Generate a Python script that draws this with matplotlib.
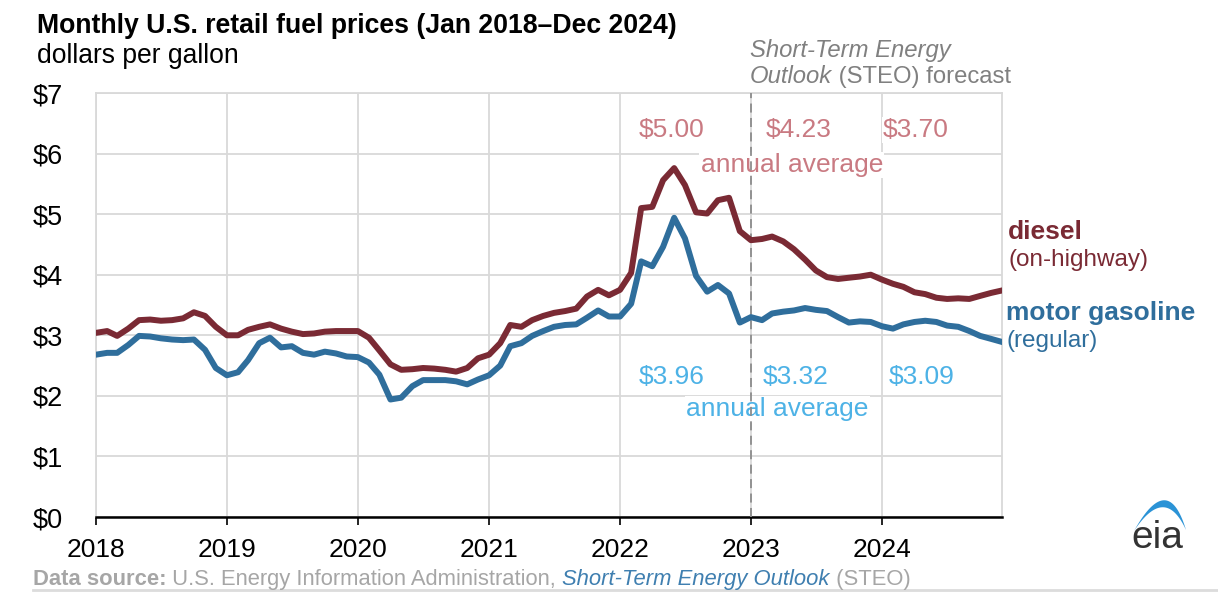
import numpy as np
import pandas as pd
import matplotlib
matplotlib.use("Agg")
import matplotlib.pyplot as plt
import matplotlib.dates as mdates
from matplotlib.patches import Polygon
from matplotlib.lines import Line2D

plt.rcParams['font.family'] = ['Liberation Sans', 'DejaVu Sans']

# monthly prices, Jan 2018 - Dec 2024 (dollars per gallon)
months = pd.date_range('2018-01-01', '2024-12-01', freq='MS')
diesel = [
    3.04, 3.07, 2.99, 3.11, 3.25, 3.26, 3.24, 3.25, 3.28, 3.38, 3.32, 3.14,  # 2018
    3.00, 3.00, 3.09, 3.14, 3.18, 3.11, 3.06, 3.02, 3.03, 3.06, 3.07, 3.07,  # 2019
    3.07, 2.96, 2.75, 2.52, 2.43, 2.44, 2.46, 2.45, 2.43, 2.40, 2.46, 2.62,  # 2020
    2.68, 2.87, 3.17, 3.14, 3.25, 3.32, 3.37, 3.40, 3.44, 3.64, 3.75, 3.66,  # 2021
    3.75, 4.03, 5.10, 5.12, 5.56, 5.76, 5.48, 5.03, 5.01, 5.23, 5.27, 4.72,  # 2022
    4.57, 4.59, 4.63, 4.55, 4.42, 4.25, 4.07, 3.96, 3.93, 3.95, 3.97, 4.00,  # 2023
    3.92, 3.85, 3.80, 3.71, 3.68, 3.62, 3.60, 3.61, 3.60, 3.65, 3.70, 3.74,  # 2024
]
gasoline = [
    2.68, 2.71, 2.71, 2.84, 2.99, 2.98, 2.95, 2.93, 2.92, 2.93, 2.76, 2.46,
    2.34, 2.39, 2.59, 2.87, 2.96, 2.80, 2.82, 2.71, 2.68, 2.73, 2.70, 2.65,
    2.64, 2.55, 2.35, 1.94, 1.97, 2.16, 2.26, 2.26, 2.26, 2.24, 2.19, 2.27,
    2.34, 2.50, 2.82, 2.87, 2.99, 3.07, 3.14, 3.17, 3.18, 3.29, 3.41, 3.31,
    3.31, 3.52, 4.22, 4.14, 4.46, 4.94, 4.60, 3.98, 3.72, 3.83, 3.69, 3.21,
    3.30, 3.25, 3.36, 3.39, 3.41, 3.45, 3.42, 3.40, 3.30, 3.21, 3.23, 3.22,
    3.15, 3.11, 3.18, 3.22, 3.24, 3.22, 3.16, 3.14, 3.07, 2.99, 2.94, 2.89,
]

# annual averages shown on the chart
avg_years = ['2022', '2023', '2024']
diesel_avg = [5.00, 4.23, 3.70]
gasoline_avg = [3.96, 3.32, 3.09]

DIESEL = '#7a2a34'
GAS = '#2f6e9c'
DIESEL_LT = '#c97a82'
GAS_LT = '#4db2e6'
GRID = '#d9d9d9'
GRAY = '#808080'

W, H = 1218, 593
fig = plt.figure(figsize=(W / 100, H / 100), dpi=100)
ax = fig.add_axes([96 / W, 1 - 517 / H, (1002 - 96) / W, (517 - 93) / H])

ax.plot(months, diesel, color=DIESEL, lw=4.3, solid_joinstyle='round', zorder=3.5)
ax.plot(months, gasoline, color=GAS, lw=4.3, solid_joinstyle='round', zorder=3.5)

ax.set_xlim(months[0], months[-1])
ax.set_ylim(0, 7)
ax.set_yticks(range(8))
ax.set_yticklabels([f'${v}' for v in range(8)])
years = pd.date_range('2018-01-01', '2024-01-01', freq='YS')
ax.set_xticks(years)
ax.xaxis.set_major_formatter(mdates.DateFormatter('%Y'))
ax.tick_params(axis='y', length=0, pad=24, labelsize=19.5)
ax.tick_params(axis='x', length=6, width=1.2, direction='out', pad=9, labelsize=19)
ax.grid(True, color=GRID, lw=1.3)
ax.set_axisbelow(True)
for s in ['top', 'right', 'left']:
    ax.spines[s].set_color(GRID)
    ax.spines[s].set_linewidth(1.3)
ax.spines['bottom'].set_color('black')
ax.spines['bottom'].set_linewidth(1.8)

# forecast divider (drawn over the label boxes)
steo_start = pd.Timestamp('2023-01-01')
ax.axvline(steo_start, color='#8c8c8c', lw=1.3, ls=(0, (5, 3)), zorder=3.2)

# annual average labels
diesel_lbl_x = pd.to_datetime(['2022-05-25', '2023-05-15', '2024-04-05'])
gas_lbl_x = pd.to_datetime(['2022-05-25', '2023-05-05', '2024-04-20'])
box = dict(facecolor='white', edgecolor='none', pad=1)
for x, v in zip(diesel_lbl_x, diesel_avg):
    ax.text(x, 6.39, f'${v:.2f}', color=DIESEL_LT, fontsize=19, ha='center', va='center',
            bbox=box, zorder=3)
for x, v in zip(gas_lbl_x, gasoline_avg):
    ax.text(x, 2.31, f'${v:.2f}', color=GAS_LT, fontsize=19, ha='center', va='center',
            bbox=box, zorder=3)
ax.text(pd.Timestamp('2023-04-25'), 5.81, 'annual average', color=DIESEL_LT, fontsize=19,
        ha='center', va='center', bbox=box, zorder=3)
ax.text(pd.Timestamp('2023-03-15'), 1.78, 'annual average', color=GAS_LT, fontsize=19,
        ha='center', va='center', bbox=box, zorder=3)

# series labels on the right
fig.text(1008 / W, 1 - 239 / H, 'diesel', color=DIESEL, fontsize=19, fontweight='bold', va='baseline')
fig.text(1008 / W, 1 - 266 / H, '(on-highway)', color=DIESEL, fontsize=17.5, va='baseline')
fig.text(1006 / W, 1 - 320 / H, 'motor gasoline', color=GAS, fontsize=19, fontweight='bold', va='baseline')
fig.text(1006 / W, 1 - 347 / H, '(regular)', color=GAS, fontsize=17.5, va='baseline')

renderer = fig.canvas.get_renderer()


def rich_text(x, y, parts, size):
    # place text pieces one after another on a common baseline (pixel coords)
    cur = x
    for s, style in parts:
        t = fig.text(cur / W, 1 - y / H, s, fontsize=size, va='baseline', **style)
        cur += t.get_window_extent(renderer).width


fig.text(37 / W, 1 - 33 / H, 'Monthly U.S. retail fuel prices (Jan 2018\u2013Dec 2024)',
         fontsize=19.2, fontweight='bold', va='baseline')
fig.text(37 / W, 1 - 63 / H, 'dollars per gallon', fontsize=19.1, va='baseline')

rich_text(750, 57, [('Short-Term Energy', dict(color=GRAY, style='italic'))], 17.2)
rich_text(750, 83, [('Outlook', dict(color=GRAY, style='italic')),
                    (' (STEO) forecast', dict(color=GRAY))], 17.2)

rich_text(33, 585, [('Data source:', dict(color='#a6a6a6', fontweight='bold')),
                    (' U.S. Energy Information Administration, ', dict(color='#a6a6a6')),
                    ('Short-Term Energy Outlook', dict(color='#3f7fb0', style='italic')),
                    (' (STEO)', dict(color='#a6a6a6'))], 15.8)

fig.add_artist(Line2D([33 / W, 1], [3 / H, 3 / H], color='#dcdcdc', lw=2))

# eia logo
fig.text(1157 / W, 1 - 548 / H, 'eia', fontsize=28, color='#333333', ha='center', va='baseline')
lax = fig.add_axes([1120 / W, 1 - 560 / H, 80 / W, 80 / H])
lax.set_xlim(1120, 1200)
lax.set_ylim(560, 480)
lax.axis('off')
t = np.linspace(0, 1, 40)
p0, p2 = np.array([1134, 531]), np.array([1186, 530])
outer = np.outer((1 - t) ** 2, p0) + np.outer(2 * t * (1 - t), [1168, 470]) + np.outer(t ** 2, p2)
inner = np.outer((1 - t) ** 2, p0) + np.outer(2 * t * (1 - t), [1165, 484]) + np.outer(t ** 2, p2)
lax.add_patch(Polygon(np.vstack([outer, inner[::-1]]), closed=True, color='#2b93d6', lw=0))

fig.savefig('out.png', dpi=100)
